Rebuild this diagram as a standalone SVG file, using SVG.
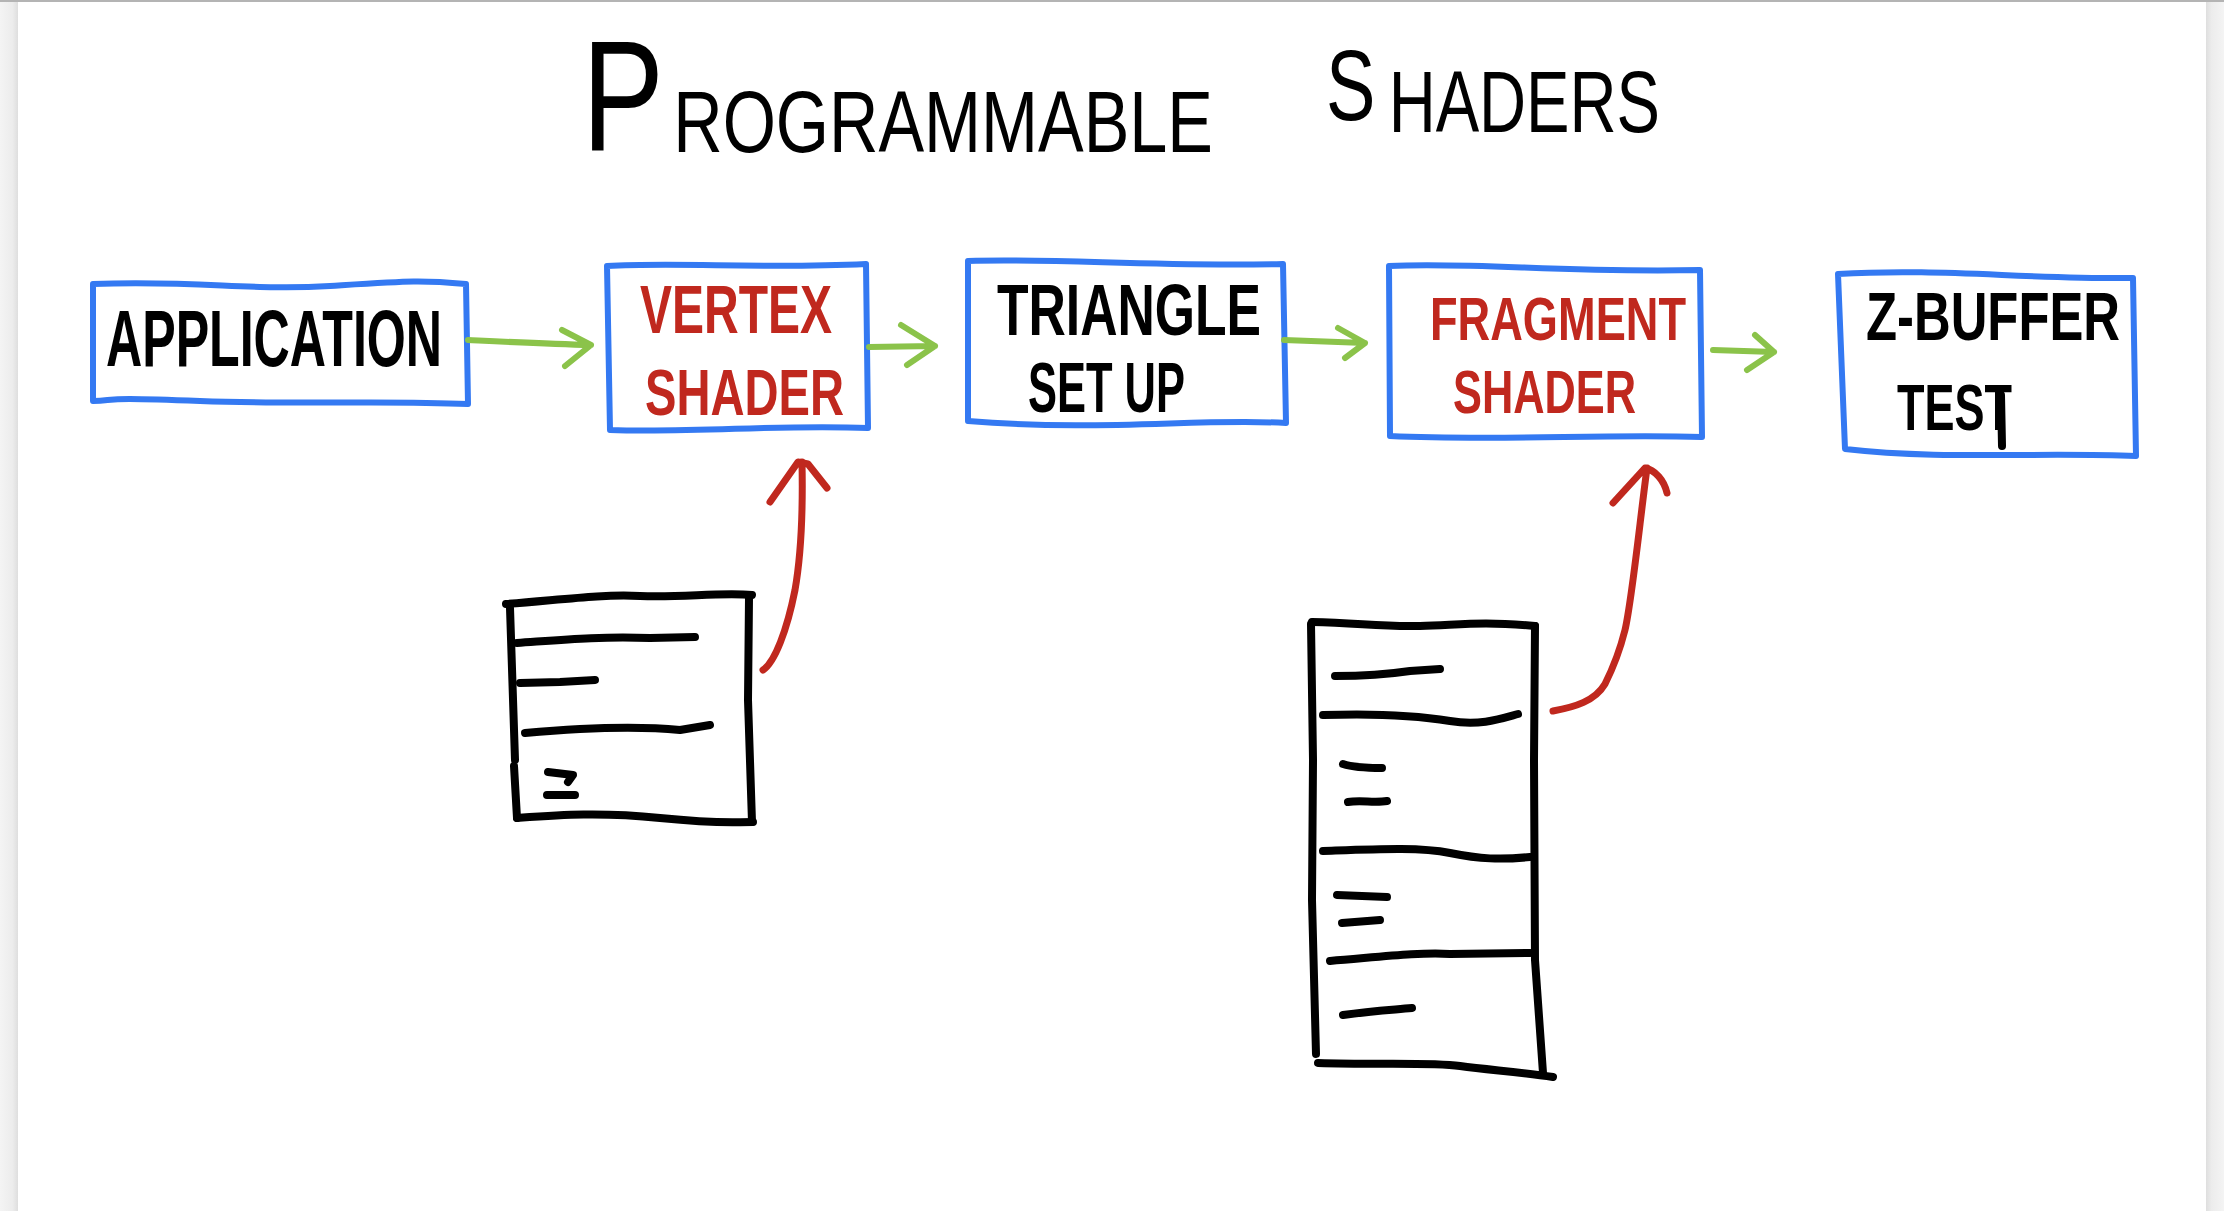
<svg xmlns="http://www.w3.org/2000/svg" width="2224" height="1211" viewBox="0 0 2224 1211">
  <defs>
    <linearGradient id="edgeL" x1="0" y1="0" x2="1" y2="0">
      <stop offset="0" stop-color="#f4f4f4"/>
      <stop offset="0.7" stop-color="#ececec"/>
      <stop offset="1" stop-color="#dedede"/>
    </linearGradient>
    <linearGradient id="edgeR" x1="0" y1="0" x2="1" y2="0">
      <stop offset="0" stop-color="#dedede"/>
      <stop offset="0.3" stop-color="#ececec"/>
      <stop offset="1" stop-color="#f4f4f4"/>
    </linearGradient>
    <style>
      .box { fill: none; stroke: #3479f2; stroke-width: 6; stroke-linejoin: round; stroke-linecap: round; }
      .ink { fill: none; stroke: #000; stroke-width: 8; stroke-linejoin: round; stroke-linecap: round; }
      .flow { fill: none; stroke: #8bc34a; stroke-width: 6; stroke-linejoin: round; stroke-linecap: round; }
      .feed { fill: none; stroke: #c0281e; stroke-width: 7; stroke-linejoin: round; stroke-linecap: round; }
      .lbl { font-family: "Liberation Sans", "DejaVu Sans", sans-serif; font-weight: bold; }
      .blk { fill: #000; }
      .red { fill: #c0281e; }
      .ttl { font-family: "Liberation Sans", "DejaVu Sans", sans-serif; fill: #000; }
    </style>
  </defs>

  <!-- page -->
  <rect x="0" y="0" width="2224" height="1211" fill="#ffffff"/>
  <rect x="0" y="0" width="18" height="1211" fill="url(#edgeL)"/>
  <rect x="2206" y="0" width="18" height="1211" fill="url(#edgeR)"/>
  <rect x="0" y="0" width="2224" height="2" fill="#b4b4b4"/>

  <!-- title -->
  <g id="title">
    <text class="ttl" x="582" y="150" textLength="631" lengthAdjust="spacingAndGlyphs"><tspan font-size="158">P</tspan><tspan font-size="88" dx="12" dy="2">ROGRAMMABLE</tspan></text>
    <text class="ttl" x="1326" y="120" textLength="334" lengthAdjust="spacingAndGlyphs"><tspan font-size="100">S</tspan><tspan font-size="88" dx="18" dy="12">HADERS</tspan></text>
  </g>

  <!-- pipeline stages -->
  <g id="application">
    <path class="box" d="M93 284 C200 280 250 291 330 286 S420 280 466 284 L468 404 C380 400 300 405 200 401 S120 400 93 401 Z"/>
    <text class="lbl blk" x="106" y="366" font-size="80" textLength="336" lengthAdjust="spacingAndGlyphs">APPLICATION</text>
  </g>

  <g id="vertex-shader">
    <path class="box" d="M607 266 C680 262 760 269 866 264 L868 428 C780 424 700 433 610 430 Z"/>
    <text class="lbl red" x="640" y="333" font-size="68" textLength="192" lengthAdjust="spacingAndGlyphs">VERTEX</text>
    <text class="lbl red" x="645" y="415" font-size="64" textLength="199" lengthAdjust="spacingAndGlyphs">SHADER</text>
  </g>

  <g id="triangle-setup">
    <path class="box" d="M968 261 C1060 258 1150 267 1283 264 L1286 423 C1200 418 1100 432 968 421 Z"/>
    <text class="lbl blk" x="997" y="335" font-size="72" textLength="264" lengthAdjust="spacingAndGlyphs">TRIANGLE</text>
    <text class="lbl blk" x="1028" y="412" font-size="70" textLength="157" lengthAdjust="spacingAndGlyphs">SET UP</text>
  </g>

  <g id="fragment-shader">
    <path class="box" d="M1389 266 C1480 262 1560 273 1700 270 L1702 437 C1600 434 1500 441 1390 436 Z"/>
    <text class="lbl red" x="1430" y="340" font-size="62" textLength="256" lengthAdjust="spacingAndGlyphs">FRAGMENT</text>
    <text class="lbl red" x="1453" y="413" font-size="62" textLength="183" lengthAdjust="spacingAndGlyphs">SHADER</text>
  </g>

  <g id="z-buffer-test">
    <path class="box" d="M1838 274 C1940 268 2020 279 2133 278 L2136 456 C2040 452 1940 460 1845 449 Z"/>
    <text class="lbl blk" x="1866" y="340" font-size="68" textLength="254" lengthAdjust="spacingAndGlyphs">Z-BUFFER</text>
    <text class="lbl blk" x="1897" y="430" font-size="64" textLength="115" lengthAdjust="spacingAndGlyphs">TEST</text>
    <path class="ink" d="M2001 395 L2002 446" stroke-width="6"/>
  </g>

  <!-- vertex program listing -->
  <g id="vertex-program">
    <path class="ink" d="M506 604 C560 600 600 594 640 596 S720 592 752 595"/>
    <path class="ink" d="M510 608 L515 760 M514 766 L517 818"/>
    <path class="ink" d="M749 598 L748 700 L752 822"/>
    <path class="ink" d="M517 818 C560 815 600 812 660 818 S730 822 753 822"/>
    <path class="ink" d="M517 643 C560 640 600 636 650 638 L695 637"/>
    <path class="ink" d="M520 683 L560 682 L595 680"/>
    <path class="ink" d="M525 733 C580 728 640 726 680 730 L710 725"/>
    <path class="ink" d="M548 772 L573 775 L568 782 M547 795 L575 795"/>
  </g>

  <!-- fragment program listing -->
  <g id="fragment-program">
    <path class="ink" d="M1312 622 C1360 623 1380 627 1420 626 S1480 621 1535 626"/>
    <path class="ink" d="M1311 624 L1313 760 L1312 900 L1316 1054"/>
    <path class="ink" d="M1535 626 L1534 760 L1535 960 L1543 1073"/>
    <path class="ink" d="M1318 1063 C1380 1065 1430 1062 1460 1066 S1520 1072 1553 1077"/>
    <path class="ink" d="M1335 676 C1370 676 1390 674 1410 671 L1440 669"/>
    <path class="ink" d="M1323 715 C1380 713 1420 716 1450 721 S1500 719 1518 714"/>
    <path class="ink" d="M1343 764 C1355 768 1370 768 1382 768 M1348 802 C1360 800 1375 803 1387 801"/>
    <path class="ink" d="M1323 851 C1380 849 1420 847 1450 853 S1500 860 1530 857"/>
    <path class="ink" d="M1337 895 L1387 897 M1342 923 L1380 920"/>
    <path class="ink" d="M1330 961 C1380 957 1420 952 1450 954 L1530 953"/>
    <path class="ink" d="M1343 1015 C1370 1011 1390 1010 1412 1008"/>
  </g>

  <!-- connectors -->
  <g id="connectors">
    <path class="flow" d="M468 340 C510 342 550 344 591 345 M562 330 L591 345 L565 366"/>
    <path class="flow" d="M869 347 L935 346 M901 325 L935 346 L907 365"/>
    <path class="flow" d="M1284 340 L1365 343 M1338 328 L1365 343 L1345 358"/>
    <path class="flow" d="M1713 350 L1774 352 M1755 335 L1774 352 L1747 370"/>
    <path class="feed" d="M763 670 C775 662 787 630 795 590 C802 550 803 510 802 462 M770 502 L798 462 L808 464 L827 488"/>
    <path class="feed" d="M1553 711 C1575 707 1595 701 1605 684 C1612 670 1620 650 1625 630 C1632 600 1640 520 1647 468 M1613 503 L1645 468 C1655 470 1664 480 1667 493"/>
  </g>
</svg>
